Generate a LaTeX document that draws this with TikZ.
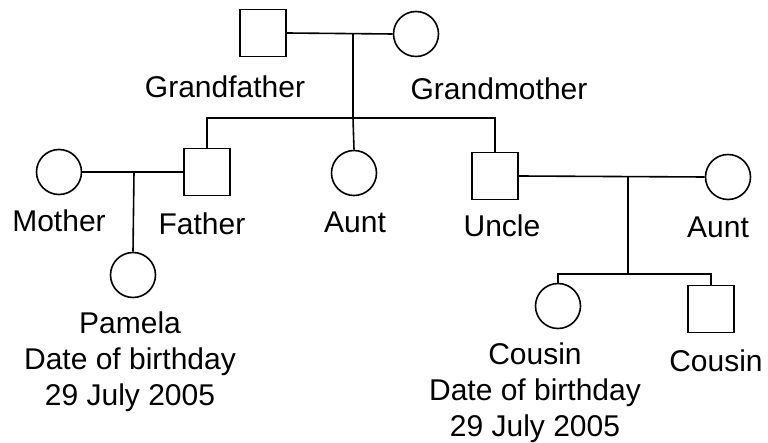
\documentclass[tikz,border=0pt]{standalone}
\usepackage{fontspec}
\setmainfont{Liberation Sans}
\begin{document}
\begin{tikzpicture}[x=1pt,y=-1pt,
  line width=1.6pt,
  male/.style={draw, rectangle, minimum width=46pt, minimum height=47pt, inner sep=0pt},
  female/.style={draw, circle, minimum size=45pt, inner sep=0pt},
  lbl/.style={anchor=base, font=\fontsize{30}{35}\selectfont, inner sep=0pt}]
\useasboundingbox (0,0) rectangle (768,443);

% grandparents
\node[male]   (gf) at (263,33) {};
\node[female] (gm) at (416,34) {};
\node[lbl] (gfl) at (225,98) {Grandfather};
\node[lbl] (gml) at (499,100) {Grandmother};

% their children
\node[male]   (father) at (207,172) {};
\node[female] (aunta)  at (354,173) {};
\node[male]   (uncle)  at (495,176) {};
\node[lbl] (fatherl) at (202,235) {Father};
\node[lbl] (auntal)  at (355,233) {Aunt};
\node[lbl] (unclel)  at (502,237) {Uncle};

% spouses
\node[female] (mother) at (59,172) {};
\node[female] (auntb)  at (728,177) {};
\node[lbl] (motherl) at (59,232) {Mother};
\node[lbl] (auntbl)  at (718,238) {Aunt};

% grandchildren
\node[female] (pamela)  at (133,275) {};
\node[female] (cousina) at (558,306) {};
\node[male]   (cousinb) at (711,309) {};
\node[lbl] (pamelal1) at (130,334) {Pamela};
\node[lbl] (pamelal2) at (130,370) {Date of birthday};
\node[lbl] (pamelal3) at (130,405) {29 July 2005};
\node[lbl] (cousinal1) at (535,365) {Cousin};
\node[lbl] (cousinal2) at (535,400) {Date of birthday};
\node[lbl] (cousinal3) at (535,436) {29 July 2005};
\node[lbl] (cousinbl)  at (716,371) {Cousin};

% marriage and descent lines
\coordinate (gpm) at (353,33.5);
\coordinate (sib) at (353,118);
\coordinate (pm)  at (134,172);
\coordinate (um)  at (628,176.5);
\coordinate (ch)  at (628,274);

\draw (gf.east) -- (gm.west);
\draw (gpm) -- (sib);
\draw (father.north) |- (sib) -| (uncle.north);
\draw (sib) -- (aunta.north);

\draw (mother.east) -- (father.west);
\draw (pm) -- (pamela.north);

\draw (uncle.east) -- (auntb.west);
\draw (um) -- (ch);
\draw (cousina.north) |- (ch) -| (cousinb.north);
\end{tikzpicture}
\end{document}
